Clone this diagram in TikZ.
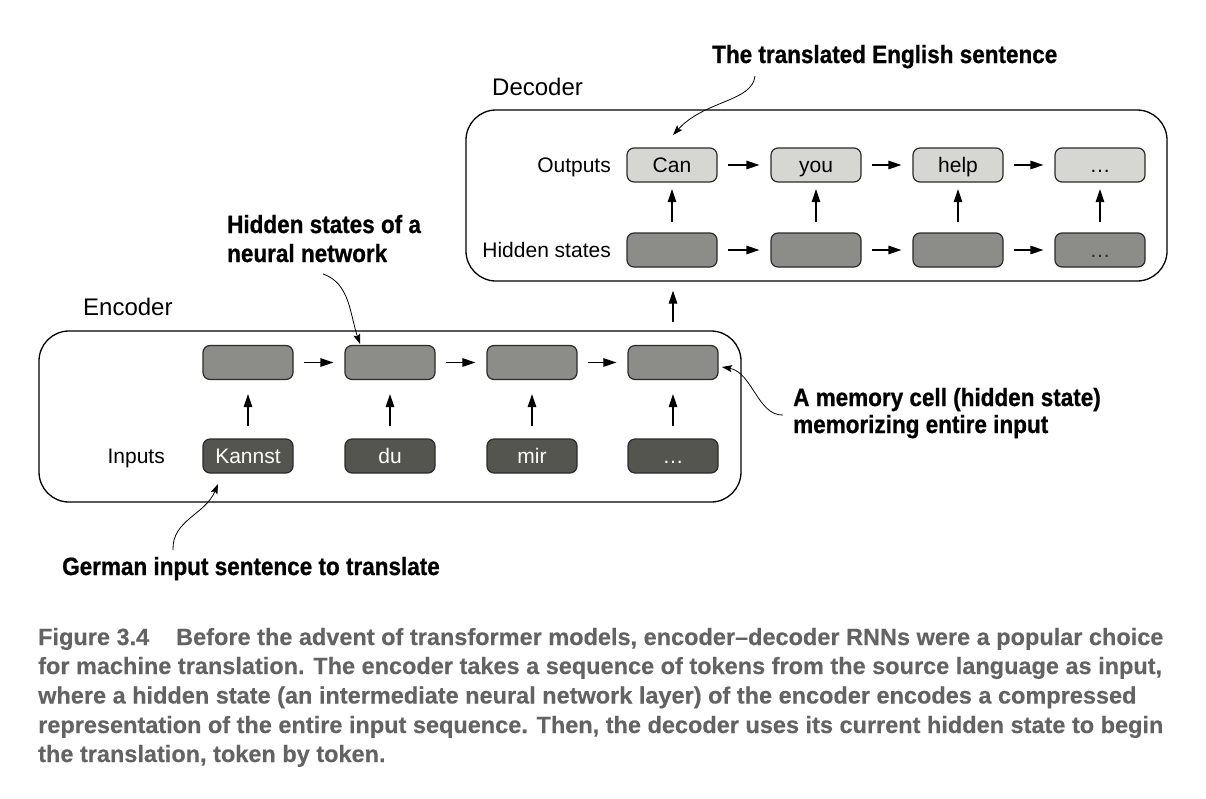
\documentclass[tikz,border=0pt]{standalone}
\usepackage{fontspec}
\setmainfont{Liberation Sans}
\newfontfamily\annfont[FakeStretch=0.9, BoldFeatures={FakeBold=0.8}]{Liberation Sans}
\newfontfamily\capfont[BoldFeatures={FakeBold=0.3}]{Liberation Sans}
\usetikzlibrary{arrows.meta}
\definecolor{outfill}{HTML}{D6D6D2}
\definecolor{hidfill}{HTML}{8C8C88}
\definecolor{infill}{HTML}{55554F}
\definecolor{capgray}{HTML}{636363}
\definecolor{boxline}{HTML}{2B2B2B}
\begin{document}
\begin{tikzpicture}[x=1pt,y=-1pt,
  cell/.style={draw=boxline, line width=1.2pt, rounded corners=7pt, minimum width=90pt, minimum height=34pt, inner sep=0pt, text height=15pt, text depth=0pt, font=\fontsize{21}{25}\selectfont},
  outcell/.style={cell, fill=outfill},
  hidcell/.style={cell, fill=hidfill, text=boxline},
  incell/.style={cell, fill=infill, text=white},
  container/.style={draw=black, line width=1.3pt, rounded corners=30pt, minimum width=#1, minimum height=171pt, inner sep=0pt},
  rowlabel/.style={anchor=base east, inner sep=0pt, font=\fontsize{21}{25}\selectfont},
  title/.style={anchor=base west, inner sep=0pt, font=\fontsize{24}{28}\selectfont},
  flow/.style={line width=1.3pt, -{Triangle[length=13pt,width=8.5pt]}},
  ann/.style={anchor=base west, inner sep=0pt, font=\annfont\bfseries\fontsize{25}{29}\selectfont},
  pointer/.style={line width=0.8pt, -{Stealth[length=10pt,width=7pt,inset=2pt]}},
  captionline/.style={anchor=base west, inner sep=0pt, text=capgray, font=\capfont\bfseries\fontsize{23.5}{29}\selectfont}
]
\fill[white] (0,0) rectangle (1206,798);
\useasboundingbox (0,0) rectangle (1206,798);

% containers
\node[container=701pt] (dec) at (816.5,195.5) {};
\node[container=702pt] (enc) at (390,416.5) {};
\node[title] (dect) at (492,95) {Decoder};
\node[title] (enct) at (83,315) {Encoder};

% decoder cells
\node[outcell] (o1) at (672,165) {Can};
\node[outcell] (o2) at (816,165) {you};
\node[outcell] (o3) at (958,165) {help};
\node[outcell] (o4) at (1100,165) {…};
\node[hidcell] (d1) at (672,250) {};
\node[hidcell] (d2) at (816,250) {};
\node[hidcell] (d3) at (958,250) {};
\node[hidcell] (d4) at (1100,250) {…};
\node[rowlabel] (outl) at (611,172.5) {Outputs};
\node[rowlabel] (hidl) at (611,257.5) {Hidden states};

% encoder cells
\node[hidcell] (e1) at (248,362.5) {};
\node[hidcell] (e2) at (390,362.5) {};
\node[hidcell] (e3) at (532,362.5) {};
\node[hidcell] (e4) at (673,362.5) {};
\node[incell] (i1) at (248,456) {Kannst};
\node[incell] (i2) at (390,456) {du};
\node[incell] (i3) at (532,456) {mir};
\node[incell] (i4) at (673,456) {…};
\node[rowlabel] (inl) at (165,463.5) {Inputs};

% flow arrows
\foreach \a/\b in {o1/o2,o2/o3,o3/o4,d1/d2,d2/d3,d3/d4,e1/e2,e2/e3,e3/e4}
  \draw[flow, shorten <=10.5pt, shorten >=11pt] (\a) -- (\b);
\foreach \a/\b in {d1/o1,d2/o2,d3/o3,d4/o4}
  \draw[flow, shorten <=10pt, shorten >=6.5pt] (\a) -- (\b);
\foreach \a/\b in {i1/e1,i2/e2,i3/e3,i4/e4}
  \draw[flow, shorten <=12pt, shorten >=14pt] (\a) -- (\b);
\draw[flow, shorten <=8pt, shorten >=9pt] (enc.north -| e4) -- (dec.south -| e4);

% annotations
\node[ann] (a1) at (712,63) {The translated English sentence};
\coordinate (a1s) at (755,76);
\coordinate (a1t) at (673,135);
\draw[pointer] (a1s) .. controls (752,102) and (705,100) .. (a1t);

\node[ann] (a2) at (227,233) {Hidden states of a};
\node[ann] (a2b) at (227,262) {neural network};
\coordinate (a2s) at (323,274);
\coordinate (a2t) at (360,344);
\draw[pointer] (a2s) .. controls (350,283) and (350,315) .. (a2t);

\node[ann] (a3) at (793,406) {A memory cell (hidden state)};
\node[ann] (a3b) at (793,433) {memorizing entire input};
\coordinate (a3s) at (783,415);
\coordinate (a3t) at (722,367);
\draw[pointer] (a3s) .. controls (758,416) and (752,372) .. (a3t);

\node[ann] (a4) at (62,575) {German input sentence to translate};
\coordinate (a4s) at (173,550);
\coordinate (a4t) at (218,484);
\draw[pointer] (a4s) .. controls (172,520) and (205,515) .. (a4t);

% caption
\node[captionline] (c1) at (38,645) {Figure 3.4\hspace{27pt}Before the advent of transformer models, encoder–decoder RNNs were a popular choice};
\node[captionline] (c2) at (38,674) {for machine translation. The encoder takes a sequence of tokens from the source language as input,};
\node[captionline] (c3) at (38,703.5) {where a hidden state (an intermediate neural network layer) of the encoder encodes a compressed};
\node[captionline] (c4) at (38,733) {representation of the entire input sequence. Then, the decoder uses its current hidden state to begin};
\node[captionline] (c5) at (38,762) {the translation, token by token.};
\end{tikzpicture}
\end{document}
